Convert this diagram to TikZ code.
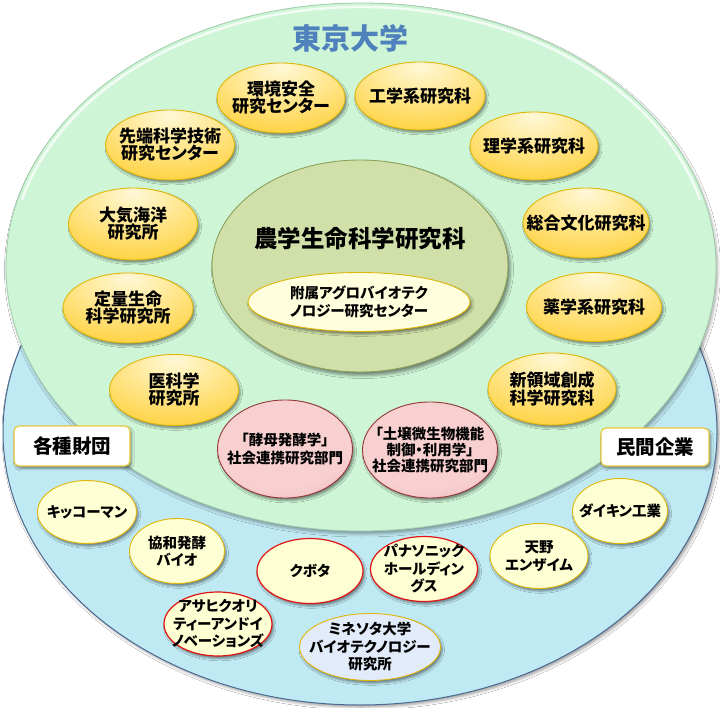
\documentclass[tikz,border=0pt]{standalone}
\usepackage{fontspec}
\newfontfamily\jp[RawFeature=+palt]{Noto Sans CJK JP}
\usetikzlibrary{shapes.geometric,shadows.blur}

\definecolor{mint}{RGB}{206,246,214}
\definecolor{mintB}{RGB}{192,232,200}
\definecolor{mintline}{RGB}{160,205,172}
\definecolor{sky}{RGB}{192,234,243}
\definecolor{skyB}{RGB}{160,205,222}
\definecolor{skyline}{RGB}{75,105,145}
\definecolor{orA}{RGB}{255,248,215}
\definecolor{orB}{RGB}{255,230,140}
\definecolor{orC}{RGB}{255,203,40}
\definecolor{orD}{RGB}{242,178,0}
\definecolor{gold}{RGB}{225,182,10}
\definecolor{pyA}{RGB}{255,255,212}
\definecolor{pyB}{RGB}{240,240,180}
\definecolor{pyC}{RGB}{150,150,95}
\definecolor{grA}{RGB}{208,224,168}
\definecolor{grB}{RGB}{190,209,145}
\definecolor{grC}{RGB}{130,150,80}
\definecolor{grline}{RGB}{140,160,90}
\definecolor{pkA}{RGB}{248,208,208}
\definecolor{pkB}{RGB}{236,172,172}
\definecolor{pkC}{RGB}{170,85,85}
\definecolor{pkline}{RGB}{150,55,55}
\definecolor{blA}{RGB}{226,235,250}
\definecolor{blB}{RGB}{204,217,240}
\definecolor{blC}{RGB}{135,150,188}
\definecolor{inA}{RGB}{255,255,222}
\definecolor{inB}{RGB}{250,246,190}
\definecolor{inC}{RGB}{205,195,120}
\definecolor{redline}{RGB}{225,20,20}
\definecolor{titleblue}{RGB}{79,129,189}
\definecolor{boxline}{RGB}{232,200,60}

\pgfdeclareradialshading{mintball}{\pgfpoint{0bp}{0bp}}{color(0bp)=(mint); color(46bp)=(mint); color(50bp)=(mintB); color(100bp)=(mintB)}
\pgfdeclareradialshading{skyball}{\pgfpoint{-4bp}{4bp}}{color(0bp)=(sky); color(45bp)=(sky); color(52bp)=(skyB); color(100bp)=(skyB)}
\pgfdeclareradialshading{orangeball}{\pgfpoint{0bp}{22bp}}{color(0bp)=(orA); color(20bp)=(orB); color(46bp)=(orC); color(68bp)=(orD); color(100bp)=(orD)}
\pgfdeclareradialshading{paleball}{\pgfpoint{-4bp}{8bp}}{color(0bp)=(pyA); color(30bp)=(pyA); color(46bp)=(pyB); color(58bp)=(pyC); color(100bp)=(pyC)}
\pgfdeclareradialshading{greenball}{\pgfpoint{0bp}{10bp}}{color(0bp)=(grA); color(34bp)=(grA); color(49bp)=(grB); color(60bp)=(grC); color(100bp)=(grC)}
\pgfdeclareradialshading{pinkball}{\pgfpoint{-3bp}{8bp}}{color(0bp)=(pkA); color(26bp)=(pkA); color(45bp)=(pkB); color(58bp)=(pkC); color(100bp)=(pkC)}
\pgfdeclareradialshading{blueball}{\pgfpoint{-3bp}{8bp}}{color(0bp)=(blA); color(30bp)=(blA); color(46bp)=(blB); color(58bp)=(blC); color(100bp)=(blC)}
\pgfdeclareradialshading{innerball}{\pgfpoint{0bp}{12bp}}{color(0bp)=(inA); color(32bp)=(inA); color(48bp)=(inB); color(60bp)=(inC); color(100bp)=(inC)}

\tikzset{
  ell/.style={ellipse, inner sep=0pt, outer sep=0pt, line width=0.9pt},
  sz/.style 2 args={minimum width=#1pt, minimum height=#2pt},
  shd/.style={blur shadow={shadow xshift=1.8pt, shadow yshift=-2.6pt, shadow blur radius=2.2pt, shadow opacity=45}},
  orangeE/.style={ell, shd, shading=orangeball, draw=gold},
  paleE/.style={ell, shd, shading=paleball, draw=gold},
  redE/.style={ell, shd, shading=paleball, draw=redline, line width=1.2pt},
  pinkE/.style={ell, shd, shading=pinkball, draw=pkline},
  blueE/.style={ell, shd, shading=blueball, draw=gold},
  innerE/.style={ell, shd, shading=innerball, draw=gold},
  bigE/.style={ell, blur shadow={shadow xshift=2.5pt, shadow yshift=-3.5pt, shadow blur radius=3pt, shadow opacity=45}, shading=greenball, draw=grline},
  labelbox/.style={draw=boxline, fill=white, line width=1.2pt, rounded corners=5pt, inner sep=0pt, shd},
  txtO/.style={align=center, inner sep=0pt, font=\jp\bfseries\fontsize{17}{17}\selectfont},
  txtN/.style={align=center, inner sep=0pt, font=\jp\bfseries\fontsize{17}{15.5}\selectfont},
  txtC/.style={align=center, inner sep=0pt, font=\jp\bfseries\fontsize{14.5}{17.5}\selectfont},
  txtP/.style={align=center, inner sep=0pt, font=\jp\bfseries\fontsize{14.5}{18}\selectfont},
  txtS/.style={align=center, inner sep=0pt, font=\jp\bfseries\fontsize{14.5}{16}\selectfont},
  txtI/.style={align=center, inner sep=0pt, font=\jp\bfseries\fontsize{14.5}{18}\selectfont},
  txtB/.style={align=center, inner sep=0pt, font=\jp\bfseries\fontsize{19.5}{20}\selectfont},
  txtBig/.style={align=center, inner sep=0pt, font=\jp\bfseries\fontsize{23.5}{24}\selectfont},
  txtT/.style={inner sep=0pt, font=\jp\bfseries\fontsize{29}{30}\selectfont},
}

\begin{document}
\begin{tikzpicture}[x=1pt,y=-1pt]
\useasboundingbox (0,0) rectangle (720,708);
\fill[white] (0,0) rectangle (720,708);

% background circles
\path[blur shadow={shadow xshift=2pt, shadow yshift=-2pt, shadow blur radius=3pt, shadow opacity=40},
      shading=skyball, draw=skyline, line width=1pt] (360,432) ellipse [x radius=357, y radius=273];
\path[blur shadow={shadow xshift=1.5pt, shadow yshift=-3pt, shadow blur radius=3pt, shadow opacity=35},
      shading=mintball, draw=mintline, line width=0.8pt] (361,267) ellipse [x radius=355, y radius=264];
\draw[white, opacity=0.75, line width=2.5pt] (361,267) ++(195:351 and 260) arc[start angle=195, end angle=345, x radius=351, y radius=260];

% title
\node[txtT, text=titleblue] (title) at (350,38) {東京大学};

% University departments (orange)
\node[orangeE, sz={128}{70}] (e1) at (281,98) {};
\node[txtO] (t1) at (e1) {環境安全\\研究センター};
\node[orangeE, sz={130}{68}] (e2) at (420,96) {};
\node[txtO] (t2) at (e2) {工学系研究科};
\node[orangeE, sz={128}{68}] (e3) at (534,146) {};
\node[txtO] (t3) at (e3) {理学系研究科};
\node[orangeE, sz={126}{70}] (e4) at (586,223) {};
\node[txtO] (t4) at (e4) {総合文化研究科};
\node[orangeE, sz={135}{69}] (e5) at (594,307) {};
\node[txtO] (t5) at (e5) {薬学系研究科};
\node[orangeE, sz={128}{72}] (e6) at (552,389) {};
\node[txtN] (t6) at (e6) {新領域創成\\科学研究科};
\node[orangeE, sz={129}{70}] (e7) at (170,145) {};
\node[txtO] (t7) at (e7) {先端科学技術\\研究センター};
\node[orangeE, sz={129}{72}] (e8) at (133,224) {};
\node[txtO] (t8) at (e8) {大気海洋\\研究所};
\node[orangeE, sz={130}{70}] (e9) at (128,308) {};
\node[txtO] (t9) at (e9) {定量生命\\科学研究所};
\node[orangeE, sz={129}{71}] (e10) at (174,390) {};
\node[txtO] (t10) at (e10) {医科学\\研究所};

% central graduate school
\node[bigE, sz={296}{212}] (big) at (360,266) {};
\node[txtBig] (tbig) at (360,239) {農学生命科学研究科};
\node[innerE, sz={222}{59}] (inner) at (359,302) {};
\node[txtI] (tinner) at (inner) {附属アグロバイオテク\\ノロジー研究センター};

% social cooperation departments (pink)
\node[pinkE, sz={135}{98}] (p1) at (285,449) {};
\node[txtP] (tp1) at (p1) {「酵母発酵学」\\社会連携研究部門};
\node[pinkE, sz={135}{96}] (p2) at (430,450) {};
\node[txtS] (tp2) at (p2) {「土壌微生物機能\\制御・利用学」\\社会連携研究部門};

% category boxes
\node[labelbox, minimum width=116pt, minimum height=40pt] (zaidan) at (72,446) {};
\node[txtB] (tzaidan) at (zaidan) {各種財団};
\node[labelbox, minimum width=108pt, minimum height=38pt] (kigyo) at (655,447) {};
\node[txtB] (tkigyo) at (kigyo) {民間企業};

% partners
\node[paleE, sz={99}{63}] (c1) at (87,512) {};
\node[txtC] (tc1) at (c1) {キッコーマン};
\node[paleE, sz={95}{65}] (c2) at (177,551) {};
\node[txtC] (tc2) at (c2) {協和発酵\\バイオ};
\node[redE, sz={106}{65}] (c3) at (310,571) {};
\node[txtC] (tc3) at (c3) {クボタ};
\node[redE, sz={107}{65}] (c4) at (424,569) {};
\node[txtC] (tc4) at (c4) {パナソニック\\ホールディン\\グス};
\node[paleE, sz={98}{65}] (c5) at (539,556) {};
\node[txtC] (tc5) at (c5) {天野\\エンザイム};
\node[paleE, sz={95}{65}] (c6) at (620,511) {};
\node[txtC] (tc6) at (c6) {ダイキン工業};
\node[redE, sz={108}{64}] (c7) at (218,624) {};
\node[txtC] (tc7) at (c7) {アサヒクオリ\\ティーアンドイ\\ノベーションズ};
\node[blueE, sz={141}{67}] (c8) at (370,647) {};
\node[txtC] (tc8) at (c8) {ミネソタ大学\\バイオテクノロジー\\研究所};

\end{tikzpicture}
\end{document}
